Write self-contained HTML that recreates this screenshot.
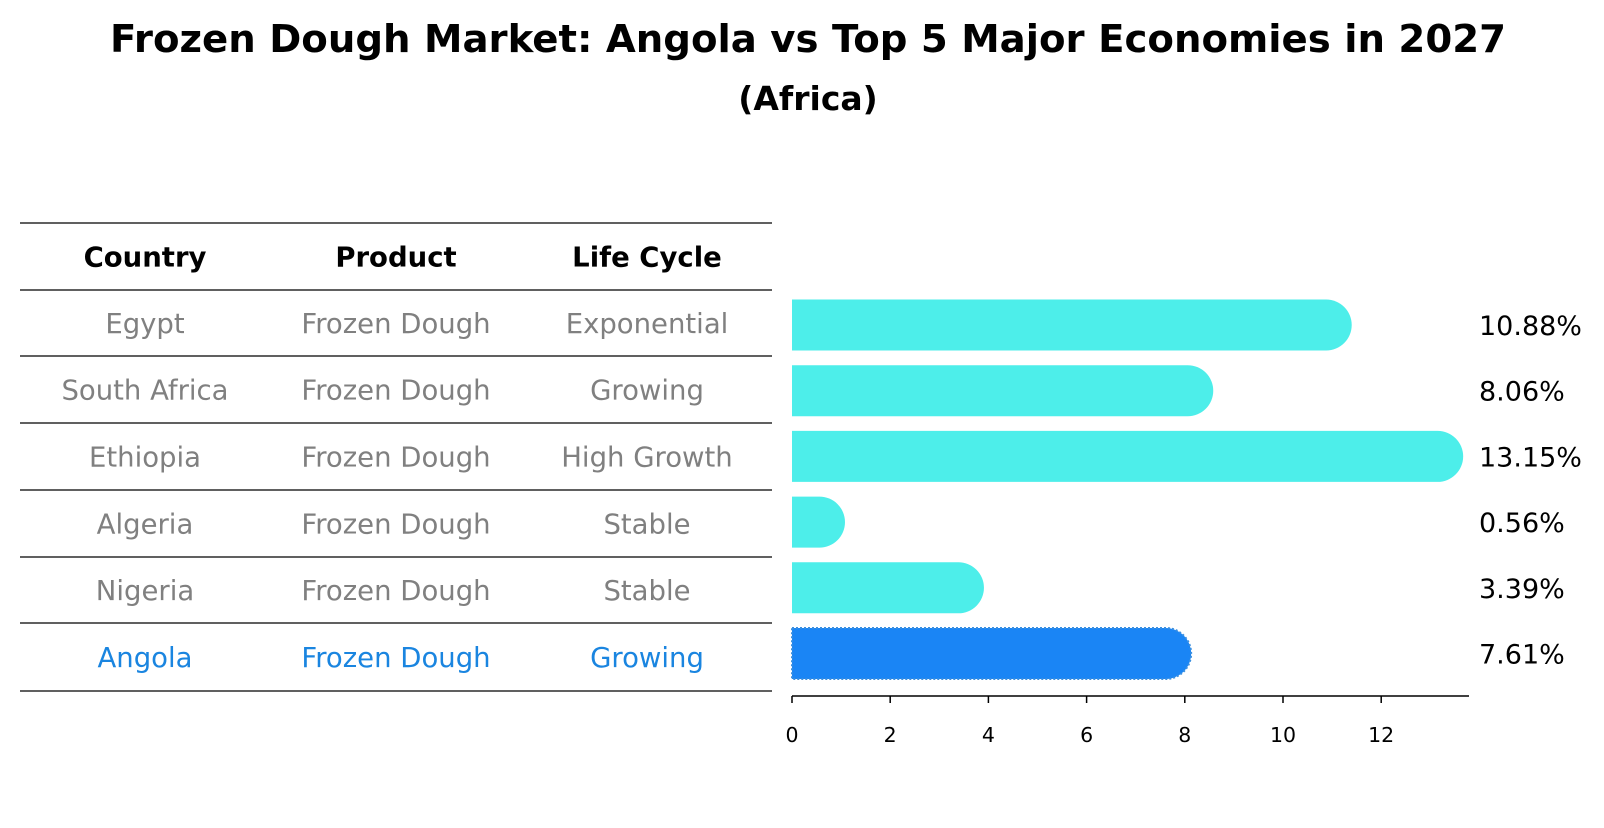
<!DOCTYPE html>
<html><head><meta charset="utf-8"><style>
body{margin:0;background:#fff;font-family:"Liberation Sans","DejaVu Sans",sans-serif;}
svg text{font-family:"DejaVu Sans","Liberation Sans",sans-serif;}
</style></head><body>
<svg width="1604" height="823" xmlns="http://www.w3.org/2000/svg">
<text x="808" y="52" text-anchor="middle" font-size="38.5" font-weight="bold" textLength="1396" lengthAdjust="spacingAndGlyphs">Frozen Dough Market: Angola vs Top 5 Major Economies in 2027</text>
<text x="808" y="110" text-anchor="middle" font-size="33" font-weight="bold">(Africa)</text>
<g id="table"></g>
<g id="bars"></g>
<g id="axis"></g>
</svg>
<script>
const countries=["Egypt","South Africa","Ethiopia","Algeria","Nigeria","Angola"];
const products=["Frozen Dough","Frozen Dough","Frozen Dough","Frozen Dough","Frozen Dough","Frozen Dough"];
const lifeCycles=["Exponential","Growing","High Growth","Stable","Stable","Growing"];
const values=[10.88,8.06,13.15,0.56,3.39,7.61];
const ticks=[0,2,4,6,8,10,12];
const NS="http://www.w3.org/2000/svg";
function mk(tag,attrs,parent){const e=document.createElementNS(NS,tag);for(const k in attrs)e.setAttribute(k,attrs[k]);parent.appendChild(e);return e;}
const x0=792,ppu=49.1;
const xs=v=>x0+v*ppu;
const rowY=i=>325+i*65.7;
const table=document.getElementById('table'),bars=document.getElementById('bars'),axis=document.getElementById('axis');
const lineYs=[223,290,356,423,490,557,623,691];
lineYs.forEach(y=>{const l=mk('line',{x1:20,x2:772,y1:y,y2:y,stroke:'#000','stroke-width':1.2},table);

});
const colX=[145,396,647];
["Country","Product","Life Cycle"].forEach((h,j)=>{const t=mk('text',{x:colX[j],y:(lineYs[0]+lineYs[1])/2+10,'text-anchor':'middle','font-size':27.5,'font-weight':'bold'},table);t.textContent=h;

});
countries.forEach((c,i)=>{
 const y=(lineYs[i+1]+lineYs[i+2])/2+10;
 const col=c==="Angola"?"#1a85e0":"#808080";
 [c,products[i],lifeCycles[i]].forEach((v,j)=>{const t=mk('text',{x:colX[j],y:y,'text-anchor':'middle','font-size':27.5,fill:col},table);t.textContent=v;
 
 });
 const cy=rowY(i),h=51,r=25.5;
 const w=xs(values[i])-x0;
 const isA=c==="Angola";
 const fill=isA?"#1a85f5":"#4deeea";
 const p=mk('path',{d:`M${x0},${cy-h/2} h${w} a${r},${r} 0 0 1 0,${h} h${-w} Z`,fill:fill,stroke:isA?"#3a8fe0":"none",'stroke-width':isA?2:0,'stroke-dasharray':isA?"2,2":"none"},bars);
 
 
 const t=mk('text',{x:1479,y:cy+10,'font-size':27},bars);t.textContent=values[i].toFixed(2)+"%";
 
 
});
const al=mk('line',{x1:x0,x2:1469,y1:696,y2:696,stroke:'#000','stroke-width':1.5},axis);


ticks.forEach(v=>{const tl=mk('line',{x1:xs(v),x2:xs(v),y1:696,y2:703,stroke:'#000','stroke-width':1.5},axis);


const t=mk('text',{x:xs(v),y:742,'text-anchor':'middle','font-size':20.5},axis);t.textContent=v;

});
</script>
</body></html>
